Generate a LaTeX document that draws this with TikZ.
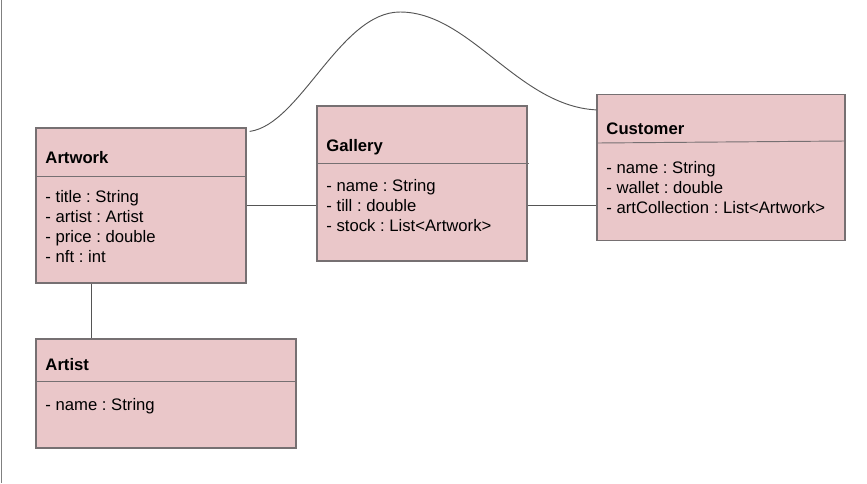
\documentclass[tikz,border=0pt]{standalone}
\usepackage{fontspec}
\setmainfont{Liberation Sans}
\usetikzlibrary{calc}
\definecolor{classpink}{RGB}{234,199,201}
\definecolor{classedge}{RGB}{118,112,114}
\definecolor{wire}{RGB}{85,85,85}
\frenchspacing

\begin{document}
\begin{tikzpicture}[x = 0.75pt, y = -0.75pt, line width = 0.7pt,
                    umlclass/.style = {rectangle, draw = classedge, fill = classpink, line width = 0.9pt, inner sep = 0pt},
                    classname/.style = {anchor = base west, inner sep = 0pt, font = \fontsize{12.5}{15}\selectfont\bfseries},
                    attr/.style = {anchor = base west, inner sep = 0pt, font = \fontsize{12.5}{15}\selectfont}]

\useasboundingbox (0,0) rectangle (867,483);
\draw[gray] (1,0) -- (1,483);

% class boxes
\node [umlclass, minimum width = 157.5pt, minimum height = 116.25pt] (Artwork) at (141,205.5) {};
\node [umlclass, minimum width = 157.5pt, minimum height = 116.25pt] (Gallery) at (422,183.5) {};
\node [umlclass, minimum width = 186pt, minimum height = 109.5pt] (Customer) at (721,167.5) {};
\node [umlclass, minimum width = 195pt, minimum height = 81.75pt] (Artist) at (166,393.5) {};

% dividers
\draw[classedge] (36,176) -- (246,176);
\draw[classedge] (317,163) -- (529,163);
\draw[classedge] (597,143) -- (845,141);
\draw[classedge] (36,381.5) -- (296,381.5);

% Artwork
\node [classname] (awname) at (45,163) {Artwork};
\node [attr] (aw1) at (45,202) {- title : String};
\node [attr] (aw2) at (45,222) {- artist : Artist};
\node [attr] (aw3) at (45,242) {- price : double};
\node [attr] (aw4) at (45,262) {- nft : int};

% Gallery
\node [classname] (gname) at (326,151) {Gallery};
\node [attr] (g1) at (326,191) {- name : String};
\node [attr] (g2) at (326,211) {- till : double};
\node [attr] (g3) at (326,231) {- stock : List<Artwork>};

% Customer
\node [classname] (cname) at (606,134) {Customer};
\node [attr] (c1) at (606,173.5) {- name : String};
\node [attr] (c2) at (606,193.5) {- wallet : double};
\node [attr] (c3) at (606,213) {- artCollection : List<Artwork>};

% Artist
\node [classname] (arname) at (45,370) {Artist};
\node [attr] (ar1) at (45,410.5) {- name : String};

% associations
\draw[wire] (Artwork.east) -- (Artwork.east -| Gallery.west);
\draw[wire] (Artwork.east -| Gallery.east) -- (Artwork.east -| Customer.west);
\draw[wire] (Artwork.south -| 91,0) -- (Artist.north -| 91,0);
\draw[wire] ($(Artwork.north east)+(3,4)$) .. controls (300,125) and (340,12) .. (400,12)
            .. controls (470,12) and (518,106) .. ($(Customer.north west)+(0,16)$);
\end{tikzpicture}
\end{document}
